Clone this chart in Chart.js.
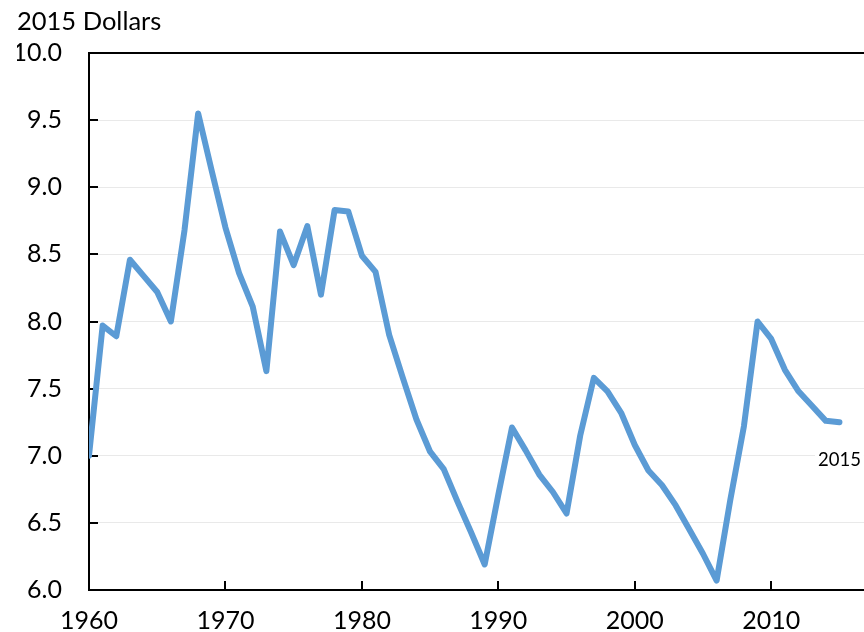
<!DOCTYPE html>
<html>
<head>
<meta charset="utf-8">
<script src="https://cdn.jsdelivr.net/npm/chart.js@4/dist/chart.umd.min.js"></script>
<style>
  html, body { margin: 0; padding: 0; background: #ffffff; overflow: hidden; }
  #c { display: block; }
</style>
</head>
<body>
<canvas id="c" width="864" height="632"></canvas>
<script>
const years = [1960,1961,1962,1963,1964,1965,1966,1967,1968,1969,
               1970,1971,1972,1973,1974,1975,1976,1977,1978,1979,
               1980,1981,1982,1983,1984,1985,1986,1987,1988,1989,
               1990,1991,1992,1993,1994,1995,1996,1997,1998,1999,
               2000,2001,2002,2003,2004,2005,2006,2007,2008,2009,
               2010,2011,2012,2013,2014,2015];
const wage = [7.00,7.97,7.89,8.46,8.34,8.22,8.00,8.68,9.55,9.12,
              8.70,8.36,8.11,7.63,8.67,8.42,8.71,8.20,8.83,8.82,
              8.49,8.37,7.90,7.58,7.27,7.03,6.90,6.66,6.43,6.19,
              6.71,7.21,7.04,6.86,6.73,6.57,7.15,7.58,7.48,7.32,
              7.08,6.89,6.78,6.63,6.45,6.27,6.07,6.67,7.22,8.00,
              7.87,7.64,7.48,7.37,7.26,7.25];
const xTickYears = [1960,1970,1980,1990,2000,2010];
const yTickValues = [6.0,6.5,7.0,7.5,8.0,8.5,9.0,9.5,10.0];
const yAxisTitle = '2015 Dollars';
const endLabel = '2015';

const FONT = 'Lato, "Liberation Sans", sans-serif';

const points = years.map((y, i) => ({ x: y, y: wage[i] }));

const decorPlugin = {
  id: 'decor',
  beforeDatasetsDraw(chart) {
    const ctx = chart.ctx;
    const a = chart.chartArea;
    const xs = chart.scales.x, ys = chart.scales.y;
    ctx.save();
    ctx.strokeStyle = '#000000';
    ctx.lineWidth = 2;
    ctx.beginPath();
    ctx.moveTo(a.left, a.top);
    ctx.lineTo(a.right, a.top);
    ctx.stroke();
    yTickValues.forEach(v => {
      const py = Math.round(ys.getPixelForValue(v));
      ctx.beginPath();
      ctx.moveTo(a.left, py);
      ctx.lineTo(a.left + 9, py);
      ctx.stroke();
    });
    xTickYears.forEach(v => {
      const px = Math.round(xs.getPixelForValue(v));
      ctx.beginPath();
      ctx.moveTo(px, a.bottom);
      ctx.lineTo(px, a.bottom - 9);
      ctx.stroke();
    });
    ctx.restore();
  },
  afterDatasetsDraw(chart) {
    const ctx = chart.ctx;
    const xs = chart.scales.x, ys = chart.scales.y;
    const last = points[points.length - 1];
    const px = xs.getPixelForValue(last.x);
    const py = ys.getPixelForValue(last.y) + 38;
    ctx.save();
    ctx.font = '18.5px ' + FONT;
    const w = ctx.measureText(endLabel).width;
    ctx.fillStyle = '#ffffff';
    ctx.fillRect(px - w / 2 - 3, py - 11, w + 6, 22);
    ctx.fillStyle = '#000000';
    ctx.textAlign = 'center';
    ctx.textBaseline = 'middle';
    ctx.fillText(endLabel, px, py);
    ctx.restore();
  }
};

new Chart(document.getElementById('c'), {
  type: 'line',
  data: {
    datasets: [{
      data: points,
      borderColor: '#5B9BD5',
      backgroundColor: '#5B9BD5',
      borderWidth: 6,
      borderCapStyle: 'round',
      borderJoinStyle: 'round',
      pointRadius: 0,
      pointHoverRadius: 0,
      tension: 0,
      fill: false
    }]
  },
  options: {
    responsive: false,
    animation: false,
    events: [],
    layout: { padding: { left: 17, top: 0, right: 0, bottom: 0 } },
    plugins: {
      legend: { display: false },
      tooltip: { enabled: false },
      title: {
        display: true,
        text: yAxisTitle,
        align: 'start',
        color: '#000000',
        font: { family: FONT, size: 25.5, weight: 'normal', lineHeight: 1.2 },
        padding: { top: 6, bottom: 16.4 }
      }
    },
    scales: {
      x: {
        type: 'linear',
        min: 1960,
        max: 2016.8,
        grid: { display: false, drawTicks: false },
        border: { display: true, color: '#000000', width: 2 },
        ticks: {
          stepSize: 10,
          includeBounds: false,
          autoSkip: false,
          maxRotation: 0,
          padding: 16,
          color: '#000000',
          font: { family: FONT, size: 25 },
          callback: (v) => String(v)
        },
        afterBuildTicks: (scale) => {
          scale.ticks = xTickYears.map(v => ({ value: v }));
        },
        afterFit: (scale) => { scale.height = 39; }
      },
      y: {
        min: 6,
        max: 10,
        grid: { color: '#e9e9e9', lineWidth: 1, drawTicks: false },
        border: { display: true, color: '#000000', width: 2 },
        ticks: {
          stepSize: 0.5,
          padding: 27,
          color: '#000000',
          font: { family: FONT, size: 25 },
          callback: (v) => Number(v).toFixed(1)
        },
        afterBuildTicks: (scale) => {
          scale.ticks = yTickValues.map(v => ({ value: v }));
        },
        afterFit: (scale) => { scale.width = 72; }
      }
    }
  },
  plugins: [decorPlugin]
});
</script>
</body>
</html>
